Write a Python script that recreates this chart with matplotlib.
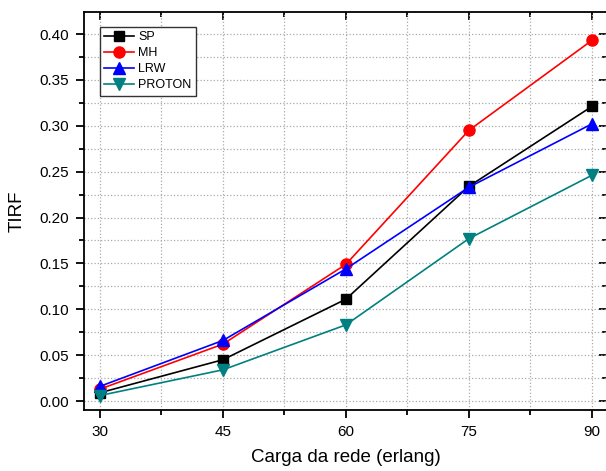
import numpy as np
import matplotlib.pyplot as plt
from matplotlib.ticker import MultipleLocator

plt.rcParams['font.family'] = ['Liberation Sans', 'DejaVu Sans']

# data
carga = [30, 45, 60, 75, 90]
sp = [0.009, 0.045, 0.111, 0.234, 0.321]
mh = [0.013, 0.062, 0.149, 0.295, 0.393]
lrw = [0.016, 0.066, 0.144, 0.233, 0.302]
proton = [0.006, 0.034, 0.083, 0.177, 0.246]

W, H = 606, 471
fig = plt.figure(figsize=(W/100, H/100), dpi=100)
ax = fig.add_axes([84/W, (H-410)/H, (607-84)/W, (410-12)/H])

ax.plot(carga, sp, c='k', marker='s', ms=7, lw=1.2, label='SP')
ax.plot(carga, mh, c='red', marker='o', ms=8, lw=1.2, label='MH')
ax.plot(carga, lrw, c='blue', marker='^', ms=8, lw=1.2, label='LRW')
ax.plot(carga, proton, c='#008080', marker='v', ms=8, lw=1.2, label='PROTON')

ax.set_xlim(28.05, 91.85)
ax.set_ylim(-0.0098, 0.424)
ax.xaxis.set_major_locator(MultipleLocator(15))
ax.xaxis.set_minor_locator(MultipleLocator(7.5))
ax.yaxis.set_major_locator(MultipleLocator(0.05))
ax.yaxis.set_minor_locator(MultipleLocator(0.025))
ax.yaxis.set_major_formatter(plt.FormatStrFormatter('%.2f'))

ax.grid(which='both', ls=':', c='#aaaaaa', lw=0.9)
ax.set_axisbelow(True)

ax.tick_params(which='both', direction='out', width=1.3, labelsize=11, pad=5)
ax.tick_params(which='major', length=6)
ax.tick_params(which='minor', length=3.5)
# inward ticks on the top and right sides
ax2 = ax.secondary_xaxis('top')
ax2.xaxis.set_major_locator(MultipleLocator(15))
ax2.xaxis.set_minor_locator(MultipleLocator(7.5))
ax2.tick_params(which='both', direction='in', width=1.3, labeltop=False)
ax2.tick_params(which='major', length=6)
ax2.tick_params(which='minor', length=3.5)
ax3 = ax.secondary_yaxis('right')
ax3.yaxis.set_major_locator(MultipleLocator(0.05))
ax3.yaxis.set_minor_locator(MultipleLocator(0.025))
ax3.tick_params(which='both', direction='in', width=1.3, labelright=False)
ax3.tick_params(which='major', length=6)
ax3.tick_params(which='minor', length=3.5)
for sp_ in ax.spines.values():
    sp_.set_linewidth(1.3)
ax2.spines['top'].set_visible(False)
ax3.spines['right'].set_visible(False)

ax.set_xlabel('Carga da rede (erlang)', fontsize=13.5, labelpad=7)
ax.set_ylabel('TIRF', fontsize=13.5, labelpad=10)

leg = ax.legend(loc='upper left', bbox_to_anchor=(100/W, 1-27/H), bbox_transform=fig.transFigure,
                borderaxespad=0, fontsize=9, fancybox=False, framealpha=1, edgecolor='#333333',
                handlelength=2.4, handletextpad=0.3, labelspacing=0.32, borderpad=0.35)
leg.get_frame().set_linewidth(1.0)

fig.savefig('out.png', dpi=100)
